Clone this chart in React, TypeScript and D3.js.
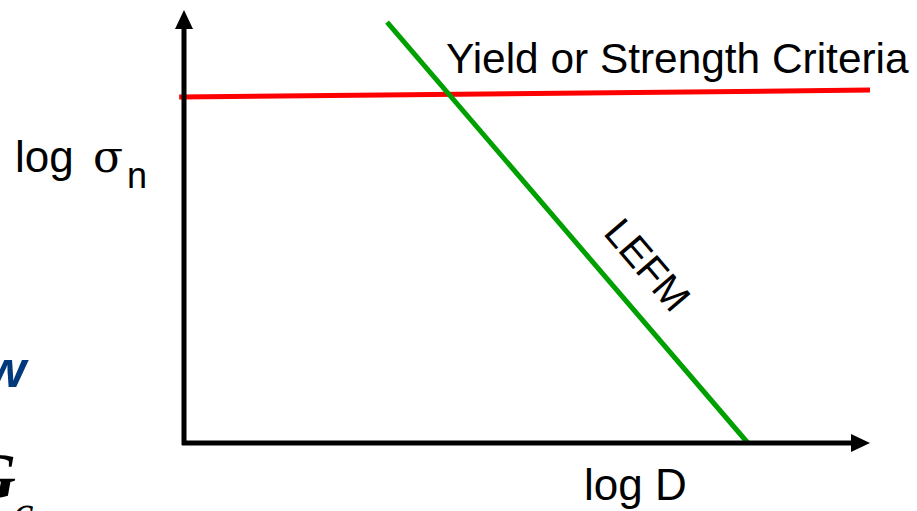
import React from "react";
import * as d3 from "d3";

// Schematic size-effect diagram: strength criterion vs. LEFM line on log-log axes
const axisDomain = [0, 100];
const strengthLine = [
  { x: -0.7, y: 79.9 },
  { x: 100, y: 81.5 },
];
const lefmLine = [
  { x: 29.6, y: 97.2 },
  { x: 82.2, y: 0 },
];
const labels = {
  yAxisLog: "log",
  yAxisSym: "σ",
  ySub: "n",
  xAxis: "log D",
  strength: "Yield or Strength Criteria",
  lefm: "LEFM",
};

const W = 917;
const H = 511;

export default function App() {
  const x = d3.scaleLinear().domain(axisDomain).range([184, 870]);
  const y = d3.scaleLinear().domain(axisDomain).range([443, 10]);
  const line = d3
    .line<{ x: number; y: number }>()
    .x((d) => x(d.x))
    .y((d) => y(d.y));

  const x0 = x(0);
  const y0 = y(0);
  const xEnd = x(100);
  const yEnd = y(100);
  const font = "Liberation Sans, Arial, sans-serif";

  const lefmAngle =
    (Math.atan2(y(lefmLine[1].y) - y(lefmLine[0].y), x(lefmLine[1].x) - x(lefmLine[0].x)) * 180) /
    Math.PI;

  return (
    <svg
      width={W}
      height={H}
      style={{ position: "absolute", left: 0, top: 0, background: "#fff" }}
    >
      {/* partial title text at left edge */}
      <text
        x={26}
        y={387}
        textAnchor="end"
        fontFamily={font}
        fontWeight="bold"
        fontStyle="italic"
        fontSize={52}
        fill="#003a7d"
      >
        w
      </text>
      <text
        x={16}
        y={498}
        textAnchor="end"
        fontFamily="Liberation Serif, Times New Roman, serif"
        fontWeight="bold"
        fontStyle="italic"
        fontSize={66}
        fill="#000"
      >
        G
      </text>
      <text
        x={13}
        y={527}
        fontFamily="Liberation Serif, Times New Roman, serif"
        fontStyle="italic"
        fontSize={46}
        fill="#000"
      >
        c
      </text>

      {/* data lines */}
      <path d={line(strengthLine) || ""} stroke="#ff0000" strokeWidth={5} fill="none" />
      <path d={line(lefmLine) || ""} stroke="#00a000" strokeWidth={5} fill="none" />

      {/* axes */}
      <line x1={x0} y1={y0 + 2} x2={x0} y2={yEnd + 16} stroke="#000" strokeWidth={5} />
      <path d={`M${x0},${yEnd} L${x0 - 9},${yEnd + 19} L${x0 + 9},${yEnd + 19} Z`} fill="#000" />
      <line x1={x0 - 2} y1={y0} x2={xEnd - 16} y2={y0} stroke="#000" strokeWidth={5} />
      <path d={`M${xEnd},${y0} L${xEnd - 19},${y0 - 9} L${xEnd - 19},${y0 + 9} Z`} fill="#000" />

      {/* labels */}
      <text x={15} y={172} fontFamily={font} fontSize={44} fill="#000">
        {labels.yAxisLog}
      </text>
      <text x={93} y={172} fontFamily="DejaVu Serif, serif" fontSize={44} fill="#000">
        {labels.yAxisSym}
      </text>
      <text x={127} y={188} fontFamily={font} fontSize={36} fill="#000">
        {labels.ySub}
      </text>
      <text x={584} y={500} fontFamily={font} fontSize={44} fill="#000">
        {labels.xAxis}
      </text>
      <text x={446} y={73} fontFamily={font} fontSize={42.4} fill="#000">
        {labels.strength}
      </text>
      <text
        transform={`translate(645,267) rotate(${lefmAngle})`}
        textAnchor="middle"
        dominantBaseline="middle"
        fontFamily={font}
        fontSize={40}
        fill="#000"
      >
        {labels.lefm}
      </text>
    </svg>
  );
}
